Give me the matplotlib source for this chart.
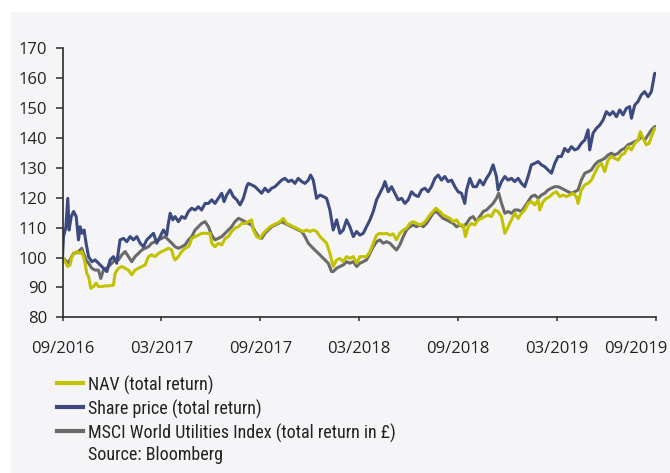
import matplotlib
matplotlib.use("Agg")
import matplotlib.pyplot as plt
import matplotlib.transforms as mtransforms
from matplotlib import font_manager
from matplotlib.patches import Rectangle

# months since end of September 2016, index value (rebased to 100)
share_price = [
    (0.00, 100.0), (0.06, 107.0), (0.20, 110.0), (0.32, 119.8), (0.40, 109.2), (0.53, 113.7),
    (0.67, 115.4), (0.83, 113.7), (0.97, 105.9), (1.07, 110.3), (1.17, 108.1), (1.31, 109.2),
    (1.43, 104.8), (1.58, 100.3), (1.78, 98.6), (1.98, 99.2), (2.18, 98.1), (2.38, 97.0),
    (2.59, 95.8), (2.69, 95.3), (2.89, 99.2), (3.09, 100.3), (3.29, 98.1), (3.49, 105.9),
    (3.70, 106.4), (3.90, 105.3), (4.10, 107.0), (4.30, 105.9), (4.51, 107.0), (4.71, 104.8),
    (4.91, 103.6), (5.11, 105.9), (5.31, 107.0), (5.52, 108.1), (5.72, 104.8), (5.92, 107.0),
    (6.12, 109.2), (6.32, 107.5), (6.42, 111.4), (6.53, 114.8), (6.69, 112.6), (6.83, 113.7),
    (7.03, 112.0), (7.23, 113.7), (7.43, 113.1), (7.64, 115.4), (7.84, 116.5), (8.04, 115.9),
    (8.24, 117.0), (8.44, 115.9), (8.65, 118.1), (8.85, 118.1), (9.05, 119.3), (9.25, 118.1),
    (9.45, 119.8), (9.66, 121.5), (9.80, 118.7), (9.96, 120.9), (10.16, 122.6), (10.36, 120.4),
    (10.57, 119.3), (10.77, 117.6), (10.97, 119.8), (11.17, 123.7), (11.27, 124.8), (11.47, 124.3),
    (11.68, 123.7), (11.88, 122.6), (12.08, 121.5), (12.28, 123.2), (12.48, 122.0), (12.69, 123.2),
    (12.89, 123.7), (13.09, 124.8), (13.29, 125.9), (13.49, 126.5), (13.70, 125.4), (13.90, 125.9),
    (14.10, 124.8), (14.30, 126.5), (14.51, 125.4), (14.71, 124.8), (14.91, 125.9), (15.05, 127.6),
    (15.21, 125.9), (15.41, 119.8), (15.62, 120.9), (15.82, 120.4), (16.02, 119.8), (16.22, 115.9),
    (16.42, 109.2), (16.63, 112.6), (16.83, 108.1), (17.03, 109.2), (17.23, 112.6), (17.43, 110.3),
    (17.64, 107.0), (17.84, 108.7), (18.04, 107.5), (18.24, 108.1), (18.44, 110.3), (18.65, 112.6),
    (18.85, 115.4), (19.05, 119.3), (19.25, 121.5), (19.45, 123.7), (19.56, 125.4), (19.76, 122.0),
    (19.96, 123.7), (20.16, 121.5), (20.36, 119.3), (20.57, 119.8), (20.77, 118.1), (20.97, 119.3),
    (21.17, 122.0), (21.37, 120.9), (21.58, 120.4), (21.78, 122.6), (21.98, 123.2), (22.18, 122.0),
    (22.38, 123.7), (22.59, 126.5), (22.79, 127.6), (22.99, 125.9), (23.19, 127.1), (23.39, 125.4),
    (23.60, 125.9), (23.80, 123.7), (24.00, 122.0), (24.20, 121.5), (24.40, 118.1), (24.51, 122.6),
    (24.71, 126.5), (24.91, 123.7), (25.11, 123.7), (25.31, 125.9), (25.52, 124.3), (25.72, 126.5),
    (25.92, 128.2), (26.12, 131.0), (26.32, 127.1), (26.42, 122.6), (26.63, 125.4), (26.83, 127.1),
    (27.03, 125.9), (27.23, 126.5), (27.43, 125.4), (27.64, 126.5), (27.84, 124.8), (28.04, 123.7),
    (28.24, 127.1), (28.44, 131.0), (28.65, 131.5), (28.85, 132.1), (29.05, 131.0), (29.25, 130.4),
    (29.45, 129.3), (29.66, 128.2), (29.86, 131.5), (30.06, 133.8), (30.26, 133.8), (30.46, 136.5),
    (30.67, 135.4), (30.87, 137.1), (31.07, 136.0), (31.27, 136.5), (31.47, 138.2), (31.68, 139.3),
    (31.88, 142.7), (31.98, 136.0), (32.18, 141.6), (32.38, 143.2), (32.59, 144.3), (32.79, 146.0),
    (32.99, 148.8), (33.19, 147.7), (33.39, 148.8), (33.60, 147.1), (33.80, 149.4), (34.00, 147.7),
    (34.20, 149.9), (34.40, 150.5), (34.51, 146.6), (34.71, 151.0), (34.91, 152.2), (35.11, 154.4),
    (35.31, 155.5), (35.52, 153.8), (35.72, 155.5), (35.92, 161.6), (35.98, 161.6),
]

nav = [
    (0.00, 100.0), (0.16, 98.6), (0.32, 97.0), (0.46, 97.5), (0.57, 100.3), (0.71, 101.4),
    (0.87, 102.0), (1.07, 101.4), (1.17, 102.0), (1.27, 100.3), (1.37, 98.1), (1.47, 94.7),
    (1.58, 93.6), (1.72, 89.7), (1.88, 90.3), (2.04, 91.4), (2.18, 90.3), (2.38, 90.3),
    (2.59, 90.5), (2.79, 90.5), (3.09, 90.8), (3.19, 94.7), (3.39, 96.4), (3.60, 97.0),
    (3.80, 96.4), (4.00, 95.8), (4.20, 94.2), (4.40, 95.8), (4.61, 96.4), (4.81, 97.0),
    (5.01, 97.5), (5.21, 100.3), (5.41, 100.9), (5.62, 100.3), (5.82, 101.4), (6.02, 102.0),
    (6.22, 102.5), (6.42, 103.1), (6.63, 102.5), (6.73, 100.3), (6.83, 99.2), (7.03, 100.3),
    (7.23, 102.0), (7.43, 103.1), (7.64, 103.6), (7.74, 104.8), (7.84, 106.4), (8.04, 107.0),
    (8.24, 107.5), (8.44, 108.1), (8.65, 108.1), (8.95, 108.1), (9.05, 104.8), (9.25, 103.6),
    (9.45, 104.8), (9.66, 104.2), (9.86, 106.4), (10.06, 107.0), (10.26, 108.7), (10.46, 109.8),
    (10.67, 110.3), (10.87, 111.4), (11.07, 111.4), (11.27, 112.0), (11.47, 112.6), (11.58, 109.2),
    (11.78, 107.0), (11.98, 106.4), (12.18, 108.1), (12.38, 109.2), (12.59, 110.3), (12.79, 110.9),
    (12.99, 111.4), (13.19, 112.0), (13.39, 113.1), (13.60, 111.4), (13.80, 110.9), (14.00, 110.3),
    (14.20, 109.8), (14.40, 109.2), (14.61, 108.7), (14.81, 109.2), (15.01, 108.7), (15.21, 109.2),
    (15.41, 108.7), (15.62, 107.0), (15.82, 105.9), (16.02, 104.8), (16.22, 101.4), (16.42, 97.0),
    (16.63, 99.2), (16.83, 99.7), (17.03, 98.6), (17.23, 100.3), (17.43, 99.7), (17.64, 100.3),
    (17.84, 98.1), (18.04, 100.3), (18.24, 100.3), (18.44, 100.3), (18.65, 102.0), (18.85, 104.8),
    (19.05, 107.5), (19.25, 108.1), (19.45, 107.9), (19.66, 108.1), (19.86, 107.5), (20.06, 107.9),
    (20.26, 105.9), (20.46, 108.1), (20.67, 109.2), (20.87, 109.8), (21.07, 111.4), (21.27, 112.0),
    (21.47, 111.4), (21.68, 110.9), (21.88, 111.4), (22.08, 112.6), (22.28, 114.2), (22.48, 115.4),
    (22.65, 116.5), (22.89, 115.4), (23.09, 114.2), (23.29, 113.7), (23.49, 113.1), (23.70, 112.0),
    (23.90, 112.6), (24.10, 110.9), (24.30, 110.9), (24.44, 107.0), (24.61, 110.3), (24.81, 111.4),
    (25.01, 110.9), (25.21, 112.6), (25.41, 113.1), (25.62, 113.7), (25.82, 114.2), (26.02, 113.7),
    (26.22, 115.9), (26.42, 115.4), (26.63, 113.7), (26.83, 108.1), (27.03, 110.3), (27.23, 112.6),
    (27.43, 114.8), (27.64, 113.1), (27.84, 114.8), (28.04, 115.9), (28.24, 118.1), (28.44, 118.7),
    (28.65, 117.6), (28.85, 119.3), (28.95, 115.9), (29.15, 118.7), (29.35, 119.8), (29.56, 120.4),
    (29.76, 121.5), (29.96, 122.0), (30.16, 120.4), (30.36, 120.9), (30.57, 120.4), (30.77, 120.9),
    (30.97, 121.5), (31.17, 120.4), (31.27, 118.1), (31.47, 122.6), (31.68, 124.3), (31.88, 124.8),
    (32.08, 125.9), (32.28, 128.2), (32.48, 130.4), (32.69, 131.5), (32.89, 128.7), (33.09, 132.6),
    (33.29, 133.8), (33.49, 133.2), (33.70, 132.6), (33.90, 134.3), (34.10, 134.9), (34.30, 137.1),
    (34.51, 136.0), (34.71, 138.2), (34.91, 139.3), (35.05, 142.1), (35.21, 139.9), (35.41, 137.7),
    (35.58, 138.2), (35.72, 140.4), (35.92, 143.2), (35.98, 143.2),
]

msci_utilities = [
    (0.00, 100.0), (0.16, 99.2), (0.32, 98.1), (0.46, 99.2), (0.67, 101.4), (0.87, 101.6),
    (1.07, 102.5), (1.17, 103.1), (1.27, 101.4), (1.43, 99.2), (1.58, 98.1), (1.78, 96.4),
    (1.98, 95.8), (2.18, 95.8), (2.32, 93.0), (2.48, 95.8), (2.65, 96.4), (2.79, 97.0),
    (2.99, 98.1), (3.19, 99.2), (3.39, 99.2), (3.60, 100.9), (3.80, 102.0), (4.00, 100.3),
    (4.20, 98.6), (4.40, 100.3), (4.61, 101.4), (4.81, 102.5), (5.01, 103.1), (5.21, 103.6),
    (5.41, 104.8), (5.62, 105.3), (5.82, 105.9), (6.02, 106.4), (6.22, 107.0), (6.42, 105.9),
    (6.63, 104.8), (6.83, 103.6), (7.03, 103.1), (7.23, 103.6), (7.43, 104.2), (7.64, 105.9),
    (7.84, 107.0), (8.04, 109.2), (8.24, 110.3), (8.44, 111.4), (8.65, 112.0), (8.85, 110.3),
    (9.05, 107.5), (9.25, 105.9), (9.45, 106.4), (9.66, 107.0), (9.86, 108.1), (10.06, 109.2),
    (10.26, 110.3), (10.46, 112.0), (10.67, 113.1), (10.87, 112.6), (11.07, 112.0), (11.27, 111.4),
    (11.47, 110.9), (11.68, 108.7), (11.88, 107.0), (12.08, 106.4), (12.28, 108.1), (12.48, 109.2),
    (12.69, 110.3), (12.89, 110.9), (13.09, 111.4), (13.29, 112.0), (13.49, 111.4), (13.70, 110.9),
    (13.90, 110.3), (14.10, 109.8), (14.30, 109.2), (14.51, 108.7), (14.71, 107.0), (14.91, 104.8),
    (15.11, 103.6), (15.31, 102.5), (15.52, 101.4), (15.72, 100.3), (15.92, 99.2), (16.12, 98.1),
    (16.32, 95.3), (16.42, 95.3), (16.63, 96.4), (16.83, 97.0), (17.03, 97.5), (17.23, 98.6),
    (17.43, 98.1), (17.64, 98.6), (17.84, 97.0), (18.04, 98.1), (18.24, 98.6), (18.44, 99.2),
    (18.65, 101.4), (18.85, 103.6), (19.05, 105.3), (19.25, 105.9), (19.45, 104.8), (19.66, 105.3),
    (19.86, 104.8), (20.06, 103.6), (20.26, 102.5), (20.46, 104.2), (20.67, 107.0), (20.87, 109.2),
    (21.07, 110.3), (21.27, 110.9), (21.47, 110.3), (21.68, 110.9), (21.88, 110.3), (22.08, 111.4),
    (22.28, 113.1), (22.48, 114.8), (22.69, 115.4), (22.89, 114.2), (23.09, 113.1), (23.29, 112.6),
    (23.49, 112.0), (23.70, 111.4), (23.90, 110.3), (24.10, 110.9), (24.30, 110.3), (24.51, 111.4),
    (24.71, 113.1), (24.91, 113.7), (25.11, 112.0), (25.31, 113.7), (25.52, 115.4), (25.72, 115.9),
    (25.92, 117.0), (26.12, 118.1), (26.32, 119.8), (26.46, 121.5), (26.63, 118.1), (26.83, 114.8),
    (27.03, 115.4), (27.23, 114.8), (27.43, 115.9), (27.64, 115.9), (27.84, 115.4), (28.04, 117.0),
    (28.24, 118.7), (28.44, 120.4), (28.65, 120.9), (28.85, 119.8), (29.05, 120.9), (29.25, 121.5),
    (29.45, 122.6), (29.66, 123.2), (29.86, 123.7), (30.06, 123.7), (30.26, 123.2), (30.46, 122.6),
    (30.67, 122.0), (30.87, 121.5), (31.07, 122.0), (31.27, 122.6), (31.47, 125.9), (31.68, 128.2),
    (31.88, 128.7), (32.08, 129.3), (32.28, 131.0), (32.48, 132.1), (32.69, 132.6), (32.89, 133.2),
    (33.09, 134.3), (33.29, 134.9), (33.49, 134.3), (33.70, 134.9), (33.90, 136.0), (34.10, 136.5),
    (34.30, 137.7), (34.51, 138.2), (34.71, 138.8), (34.91, 139.3), (35.11, 140.4), (35.31, 139.3),
    (35.52, 141.0), (35.72, 142.7), (35.92, 143.8), (35.98, 143.8),
]

tick_months = [0, 6, 12, 18, 24, 30, 36]
tick_labels = ["09/2016", "03/2017", "09/2017", "03/2018", "09/2018", "03/2019", "09/2019"]
y_ticks = list(range(80, 171, 10))

legend_labels = ["NAV (total return)", "Share price (total return)",
                 "MSCI World Utilities Index (total return in £)"]
source_note = "Source: Bloomberg"

NAV_COLOR = "#c3c200"
SHARE_COLOR = "#3d4a80"
MSCI_COLOR = "#6a6a6a"
AXIS_COLOR = "#2b2b2b"
PANEL = "#f5f5f8"

plt.rcParams["font.family"] = ["Open Sans", "DejaVu Sans"]

# the legend in the original is set in a condensed face: pick the installed
# condensed font whose weight is closest to regular
legend_font, legend_weight, legend_size = "Open Sans", 400, 11.0
candidates = ["Open Sans Condensed", "Roboto Condensed", "Noto Sans Condensed",
              "Liberation Sans Narrow", "DejaVu Sans Condensed"]
found = [f for f in font_manager.fontManager.ttflist if f.name in candidates and f.style == "normal"]
if found:
    def wnum(f):
        return f.weight if isinstance(f.weight, int) else font_manager.weight_dict.get(f.weight, 400)
    best = min(found, key=lambda f: (abs(wnum(f) - 400), candidates.index(f.name)))
    legend_font, legend_weight, legend_size = best.name, wnum(best), 13.0

W, H = 670, 473
fig = plt.figure(figsize=(W / 100, H / 100), dpi=100, facecolor="white")
fig.patches.append(Rectangle((11 / W, 0), 1 - 11 / W, 1 - 12 / H, transform=fig.transFigure,
                             facecolor=PANEL, edgecolor="none", zorder=-10))

ax = fig.add_axes([62.5 / W, 1 - 317.3 / H, (656 - 62.5) / W, (317.3 - 48.3) / H])
ax.patch.set_alpha(0)

def unzip(pairs):
    return [p[0] for p in pairs], [p[1] for p in pairs]

for pairs, color in [(msci_utilities, MSCI_COLOR), (share_price, SHARE_COLOR), (nav, NAV_COLOR)]:
    t, v = unzip(pairs)
    ax.plot(t, v, color=color, lw=2.2, solid_joinstyle="round")

ax.set_xlim(0, 36)
ax.set_ylim(80, 170)
ax.set_yticks(y_ticks)
ax.set_xticks(tick_months)
ax.set_xticklabels(tick_labels)

for side in ["top", "right"]:
    ax.spines[side].set_visible(False)
for side in ["left", "bottom"]:
    ax.spines[side].set_color(AXIS_COLOR)
    ax.spines[side].set_linewidth(1.2)

ax.tick_params(axis="y", direction="out", length=5, width=1.1, color=AXIS_COLOR,
               labelsize=12, labelcolor="#222222", pad=6)
ax.tick_params(axis="x", direction="out", length=3, width=1.1, color=AXIS_COLOR,
               labelsize=12, labelcolor="#222222", pad=14)

# last date label is pulled left so it stays inside the panel
last = ax.get_xticklabels()[-1]
last.set_transform(last.get_transform() + mtransforms.ScaledTranslation(-0.2, 0, fig.dpi_scale_trans))

# legend rows drawn one by one at the spacing of the original
row_y = [383, 407, 431]
for label, color, y in zip(legend_labels, (NAV_COLOR, SHARE_COLOR, MSCI_COLOR), row_y):
    fig.add_artist(plt.Line2D([57 / W, 83 / W], [1 - y / H, 1 - y / H], color=color, lw=3,
                              transform=fig.transFigure))
    fig.text(88 / W, 1 - y / H, label, family=legend_font, weight=legend_weight,
             size=legend_size, color="#222222", va="center_baseline", ha="left")

fig.text(88 / W, 1 - 453 / H, source_note, family=legend_font, weight=legend_weight,
         size=legend_size, color="#222222", va="center_baseline", ha="left")

fig.savefig("out.png", dpi=100, facecolor=fig.get_facecolor())
